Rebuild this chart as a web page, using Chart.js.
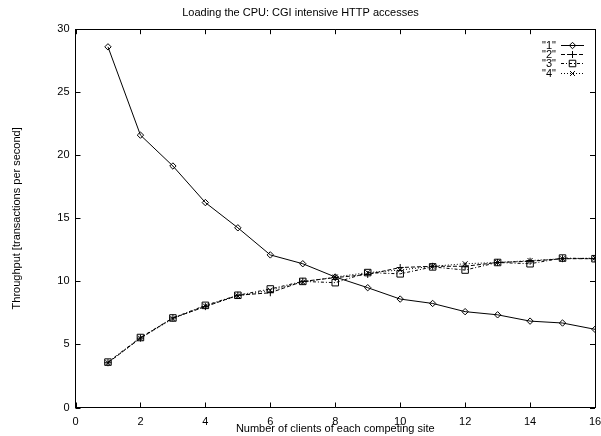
<!DOCTYPE html>
<html>
<head>
<meta charset="utf-8">
<script src="https://cdn.jsdelivr.net/npm/chart.js@4/dist/chart.umd.min.js"></script>
<style>
html,body{margin:0;padding:0;background:#fff;}
</style>
</head>
<body>
<canvas id="c" width="601" height="436"></canvas>
<script>
// ---- data ----
const clients = [1,2,3,4,5,6,7,8,9,10,11,12,13,14,15,16];
const seriesNames = ['"1"','"2"','"3"','"4"'];
const s1 = [28.6,21.6,19.15,16.25,14.25,12.1,11.4,10.35,9.5,8.6,8.25,7.6,7.35,6.85,6.7,6.2];
const s2 = [3.55,5.5,7.1,8.0,8.9,9.1,10.0,10.3,10.55,11.1,11.2,11.2,11.5,11.6,11.8,11.8];
const s3 = [3.6,5.55,7.1,8.1,8.9,9.4,10.0,9.9,10.7,10.6,11.15,10.9,11.5,11.4,11.85,11.8];
const s4 = [3.55,5.5,7.05,8.05,8.85,9.3,9.95,10.35,10.7,10.9,11.2,11.4,11.5,11.65,11.8,11.85];
const xTicksMin = 0, xTicksMax = 16, xStep = 2;
const yTicksMin = 0, yTicksMax = 30, yStep = 5;
const titleText = 'Loading the CPU: CGI intensive HTTP accesses';
const xTitle = 'Number of clients of each competing site';
const yTitle = 'Throughput [transactions per second]';

const pts = arr => clients.map((c,i)=>({x:c,y:arr[i]}));
const FONT = '"Liberation Sans", Arial, Helvetica, sans-serif';

const styles = [
  {pointStyle:'rectRot', radius:3.2, dash:[]},
  {pointStyle:'cross', radius:3.5, dash:[4,2]},
  {pointStyle:'rect', radius:4.6, dash:[3,2,1,2]},
  {pointStyle:'crossRot', radius:3.5, dash:[1,2]}
];
const allSeries = [s1,s2,s3,s4];

const datasets = allSeries.map((s,i)=>({
  label: seriesNames[i],
  data: pts(s),
  xAxisID:'x', yAxisID:'y',
  borderColor:'#000',
  backgroundColor:'#fff',
  borderWidth:1,
  borderDash: styles[i].dash,
  pointStyle: styles[i].pointStyle,
  pointRadius: styles[i].radius,
  pointBorderColor:'#000',
  pointBackgroundColor:'rgba(255,255,255,0)',
  pointBorderWidth:1,
  tension:0,
  fill:false
}));

const tickPlugin = {
  id:'inticks',
  afterDraw(chart){
    const {ctx, chartArea:a, scales} = chart;
    ctx.save();
    ctx.setLineDash([]);
    ctx.strokeStyle='rgb(0,0,0)';
    ctx.lineWidth=1;
    const L=5;
    scales.x.ticks.forEach(tk=>{
      const px = Math.round(scales.x.getPixelForValue(tk.value))+0.5;
      ctx.beginPath(); ctx.moveTo(px,a.bottom); ctx.lineTo(px,a.bottom-L); ctx.stroke();
      ctx.beginPath(); ctx.moveTo(px,a.top); ctx.lineTo(px,a.top+L); ctx.stroke();
    });
    scales.y.ticks.forEach(tk=>{
      const py = Math.round(scales.y.getPixelForValue(tk.value))+0.5;
      ctx.beginPath(); ctx.moveTo(a.left,py); ctx.lineTo(a.left+L,py); ctx.stroke();
      ctx.beginPath(); ctx.moveTo(a.right,py); ctx.lineTo(a.right-L,py); ctx.stroke();
    });
    ctx.restore();
    // key
    ctx.save();
    ctx.font = '11px '+FONT;
    ctx.fillStyle='#000';
    ctx.strokeStyle='#000';
    ctx.lineWidth=1;
    ctx.textAlign='right';
    ctx.textBaseline='middle';
    chart.data.datasets.forEach((ds,i)=>{
      const y = Math.round(45 + i*9.2)+0.5;
      ctx.fillText(ds.label, 556, y);
      ctx.save();
      ctx.setLineDash(ds.borderDash||[]);
      ctx.beginPath();
      ctx.moveTo(561, y); ctx.lineTo(584, y);
      ctx.stroke();
      ctx.restore();
      ctx.save();
      ctx.setLineDash([]);
      ctx.strokeStyle='#000';
      ctx.fillStyle='rgba(255,255,255,0)';
      Chart.helpers.drawPoint(ctx,{pointStyle:ds.pointStyle,radius:ds.pointRadius,borderWidth:1,rotation:0},572.5,y);
      ctx.restore();
    });
    ctx.restore();
  }
};

const axisGrid = {display:true,drawOnChartArea:false,drawTicks:false,color:'#000'};
const axisBorder = {display:true,color:'#000',width:1};

new Chart(document.getElementById('c'),{
  type:'line',
  data:{datasets},
  options:{
    responsive:false,
    animation:false,
    devicePixelRatio:1,
    layout:{padding:{left:0,right:0,top:0,bottom:0}},
    plugins:{
      legend:{display:false},
      tooltip:{enabled:false},
      title:{display:true,text:titleText,color:'#000',font:{family:FONT,size:11,weight:'normal'},padding:{top:6,bottom:10}}
    },
    scales:{
      x:{
        type:'linear',position:'bottom',min:xTicksMin,max:xTicksMax,
        grid:axisGrid,border:axisBorder,
        ticks:{stepSize:xStep,color:'#000',font:{family:FONT,size:11},padding:8,maxRotation:0},
        title:{display:true,text:xTitle,color:'#000',font:{family:FONT,size:11},padding:{top:0,bottom:0}},
        afterFit(s){s.height=28.5; s.paddingRight=6; s.paddingLeft=0;}
      },
      x2:{
        type:'linear',position:'top',min:xTicksMin,max:xTicksMax,
        grid:axisGrid,border:axisBorder,
        ticks:{display:false,stepSize:xStep},
        afterFit(s){s.height=0; s.paddingRight=6; s.paddingLeft=0;}
      },
      y:{
        type:'linear',position:'left',min:yTicksMin,max:yTicksMax,
        grid:axisGrid,border:axisBorder,
        ticks:{stepSize:yStep,color:'#000',font:{family:FONT,size:11},padding:6},
        title:{display:true,text:yTitle,color:'#000',font:{family:FONT,size:11},padding:{top:10,bottom:0}},
        afterFit(s){s.width=75.5;}
      },
      y2:{
        type:'linear',position:'right',min:yTicksMin,max:yTicksMax,
        grid:axisGrid,border:axisBorder,
        ticks:{display:false,stepSize:yStep},
        afterFit(s){s.width=0;}
      }
    }
  },
  plugins:[tickPlugin]
});
</script>
</body>
</html>
